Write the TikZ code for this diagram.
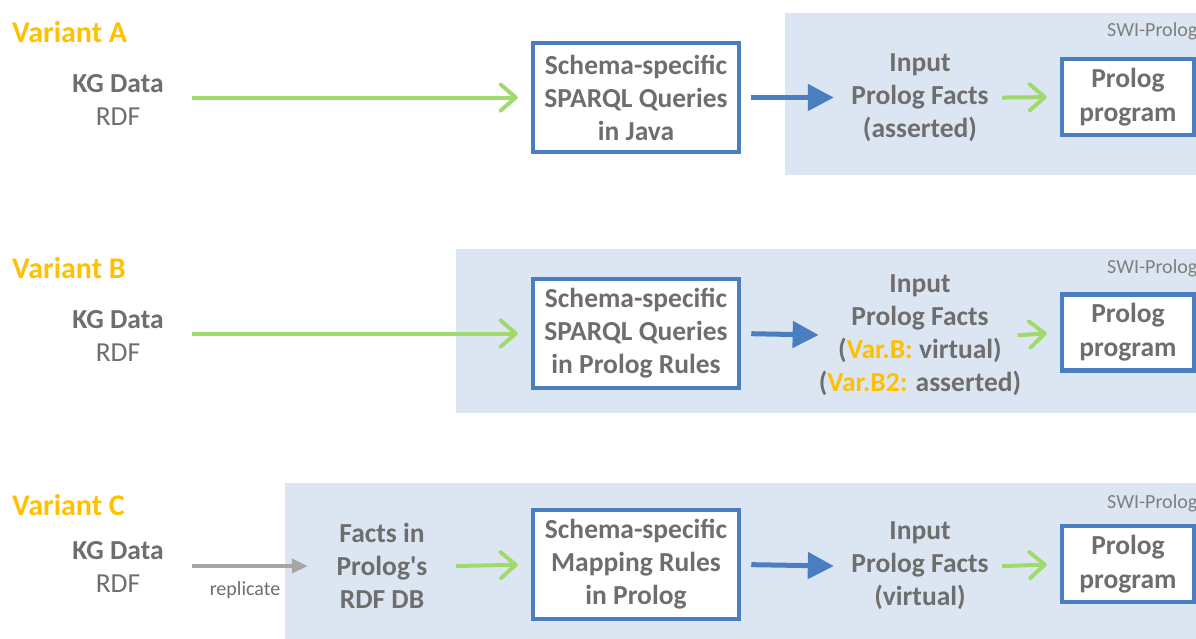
\documentclass[tikz,border=0pt]{standalone}
\usepackage{fontspec}
\setmainfont{Carlito}
\usetikzlibrary{arrows.meta}

\definecolor{txtgray}{HTML}{6E6E6E}
\definecolor{lightgray}{HTML}{7F7F7F}
\definecolor{varorange}{HTML}{FFC000}
\definecolor{boxblue}{HTML}{4A7EC0}
\definecolor{panelblue}{HTML}{DCE6F2}
\definecolor{arrowgreen}{HTML}{A0DA6C}
\definecolor{arrowgray}{HTML}{A6A6A6}

\begin{document}
\begin{tikzpicture}[x=1pt,y=-1pt,
    every node/.style={font=\bfseries\fontsize{27.5}{33}\selectfont, text=txtgray, align=center, inner sep=0pt},
    variant/.style={font=\bfseries\fontsize{30}{34}\selectfont, text=varorange, anchor=west},
    kgdata/.style={minimum width=148pt},
    schemabox/.style={draw=boxblue, line width=4.5pt, fill=white, minimum width=206pt, minimum height=109pt},
    prologbox/.style={draw=boxblue, line width=4.5pt, fill=white, minimum width=132pt, minimum height=76pt,
      font=\bfseries\fontsize{27.5}{34}\selectfont},
    factsnode/.style={minimum width=172pt},
    swi/.style={font=\fontsize{20}{24}\selectfont, text=lightgray, anchor=base west},
    panel/.style={fill=panelblue},
    greenarrow/.style={draw=arrowgreen, line width=4pt, -{Straight Barb[length=15pt,width=26pt,round]}},
    bluearrow/.style={draw=boxblue, line width=5pt, -{Triangle[length=26pt,width=26pt]}},
    grayarrow/.style={draw=arrowgray, line width=4pt, -{Triangle[length=16pt,width=14pt]}}
  ]
    \clip (0,0) rectangle (1196,638);

    % SWI-Prolog panels
    \fill[panel] (785,13) rectangle (1200,175);
    \fill[panel] (456,249) rectangle (1200,413);
    \fill[panel] (285,483) rectangle (1200,640);

    % Variant A
    \node[variant] (varA) at (12,32) {Variant A};
    \node[kgdata] (dataA) at (118,100) {KG Data\\\mdseries RDF};
    \node[schemabox] (sparqlA) at (636,97.5) {Schema-specific\\SPARQL Queries\\in Java};
    \node[factsnode] (factsA) at (920,97.5) {Input\\Prolog Facts\\(asserted)};
    \node[prologbox] (prologA) at (1128,97) {Prolog\\program};
    \node[swi] (swiA) at (1107,36) {SWI-Prolog};
    \draw[greenarrow,shorten >=13pt] (dataA.east |- sparqlA.west) -- (sparqlA.west);
    \draw[bluearrow,shorten <=10pt] (sparqlA.east) -- (factsA.west);
    \draw[greenarrow,shorten <=-4pt,shorten >=13pt] (factsA.east) -- (prologA.west);

    % Variant B
    \node[variant] (varB) at (12,268) {Variant B};
    \node[kgdata] (dataB) at (118,336) {KG Data\\\mdseries RDF};
    \node[schemabox] (sparqlB) at (636,333.5) {Schema-specific\\SPARQL Queries\\in Prolog Rules};
    \node[factsnode] (factsB) at (920,335) {Input\\Prolog Facts\\(\textcolor{varorange}{Var.B:} virtual)\\(\textcolor{varorange}{Var.B2:} asserted)};
    \node[prologbox] (prologB) at (1128,332.5) {Prolog\\program};
    \node[swi] (swiB) at (1107,273) {SWI-Prolog};
    \draw[greenarrow,shorten >=13pt] (dataB.east |- sparqlB.west) -- (sparqlB.west);
    \draw[bluearrow,shorten <=10pt] (sparqlB.east) -- (factsB.west);
    \draw[greenarrow,shorten <=-4pt,shorten >=13pt] (factsB.east) -- (prologB.west);

    % Variant C
    \node[variant] (varC) at (12,505) {Variant C};
    \node[kgdata] (dataC) at (118,567) {KG Data\\\mdseries RDF};
    \node[kgdata] (rdfdbC) at (382,566) {Facts in\\Prolog\textquotesingle s\\RDF DB};
    \node[schemabox] (mappingC) at (636,564.5) {Schema-specific\\Mapping Rules\\in Prolog};
    \node[factsnode] (factsC) at (920,566) {Input\\Prolog Facts\\(virtual)};
    \node[prologbox] (prologC) at (1128,564) {Prolog\\program};
    \node[swi] (swiC) at (1107,508) {SWI-Prolog};
    \draw[grayarrow] (dataC.east |- rdfdbC.west) -- (rdfdbC.west)
      node[midway,below=14pt,xshift=-5pt,font=\fontsize{20}{22}\selectfont] (replicate) {replicate};
    \draw[greenarrow,shorten >=13pt] (rdfdbC.east) -- (mappingC.west);
    \draw[bluearrow,shorten <=10pt] (mappingC.east) -- (factsC.west);
    \draw[greenarrow,shorten <=-4pt,shorten >=13pt] (factsC.east) -- (prologC.west);
\end{tikzpicture}
\end{document}
